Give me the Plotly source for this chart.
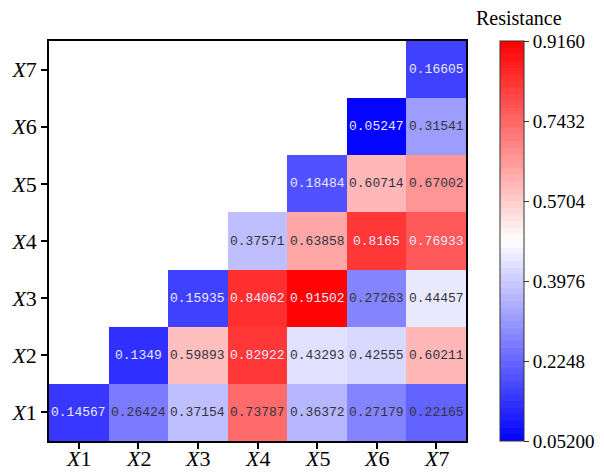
import plotly.graph_objects as go

# ---- data ----
labels = ["X1", "X2", "X3", "X4", "X5", "X6", "X7"]
row_X1 = [0.14567, 0.26424, 0.37154, 0.73787, 0.36372, 0.27179, 0.22165]
row_X2 = [None, 0.1349, 0.59893, 0.82922, 0.43293, 0.42555, 0.60211]
row_X3 = [None, None, 0.15935, 0.84062, 0.91502, 0.27263, 0.44457]
row_X4 = [None, None, None, 0.37571, 0.63858, 0.8165, 0.76933]
row_X5 = [None, None, None, None, 0.18484, 0.60714, 0.67002]
row_X6 = [None, None, None, None, None, 0.05247, 0.31541]
row_X7 = [None, None, None, None, None, None, 0.16605]
zmin, zmax = 0.052, 0.916
cbar_tickvals = [0.052, 0.2248, 0.3976, 0.5704, 0.7432, 0.916]
cbar_ticktext = ["0.05200", "0.2248", "0.3976", "0.5704", "0.7432", "0.9160"]

rows = [row_X1, row_X2, row_X3, row_X4, row_X5, row_X6, row_X7]

# discrete bwr colorscale
N = 60
def bwr(t):
    if t < 0.5:
        v = int(round(255 * 2 * t))
        return f"rgb({v},{v},255)"
    v = int(round(255 * 2 * (1 - t)))
    return f"rgb(255,{v},{v})"

colorscale = []
for k in range(N):
    c = bwr((k + 0.5) / N)
    colorscale.append([k / N, c])
    colorscale.append([(k + 1) / N, c])

serif = "Liberation Serif"
tick_text = [f"<i>X</i>{l[1:]}" for l in labels]

fig = go.Figure()
fig.add_trace(go.Heatmap(
    z=rows, x=labels, y=labels,
    zmin=zmin, zmax=zmax,
    colorscale=colorscale,
    hoverongaps=False,
    colorbar=dict(
        x=1.0815, xanchor="left", xref="paper",
        y=0, yanchor="bottom", len=1, lenmode="fraction",
        thickness=24, thicknessmode="pixels",
        outlinecolor="#333333", outlinewidth=1,
        tickvals=cbar_tickvals, ticktext=cbar_ticktext,
        ticks="outside", ticklen=5, tickcolor="#333333",
        tickfont=dict(family=serif, size=19, color="black"),
        xpad=0, ypad=0,
    ),
))

annotations = []
for i, row in enumerate(rows):
    for j, v in enumerate(row):
        if v is None:
            continue
        t = (v - zmin) / (zmax - zmin)
        light = abs(t - 0.5) > 0.33
        annotations.append(dict(
            x=labels[j], y=labels[i], text=str(v), showarrow=False,
            font=dict(family="Liberation Mono", size=13,
                      color="#e8e8ff" if light else "#333340"),
        ))

# x tick labels placed just under the tick marks
for lab, txt in zip(labels, tick_text):
    annotations.append(dict(
        x=lab, y=0, xref="x", yref="paper", text=txt, showarrow=False,
        xanchor="center", yanchor="top", yshift=-3,
        font=dict(family=serif, size=22, color="black"),
    ))

annotations.append(dict(
    x=1.127, y=1.0575, xref="paper", yref="paper", text="Resistance",
    showarrow=False, xanchor="center", yanchor="middle",
    font=dict(family=serif, size=20, color="black"),
))

axis_common = dict(
    showline=True, linecolor="black", linewidth=1.5, mirror=True,
    ticks="outside", ticklen=6, tickwidth=1.5, tickcolor="black",
    tickfont=dict(family=serif, size=22, color="black"),
    showgrid=False, zeroline=False,
    tickvals=labels,
    ticktext=tick_text,
)

fig.update_layout(
    width=596, height=466,
    margin=dict(l=41, r=138, t=33, b=33, autoexpand=False),
    paper_bgcolor="white", plot_bgcolor="white",
    xaxis=dict(**axis_common, showticklabels=False),
    yaxis=dict(**axis_common),
    annotations=annotations,
)

fig.write_html("out.html")
